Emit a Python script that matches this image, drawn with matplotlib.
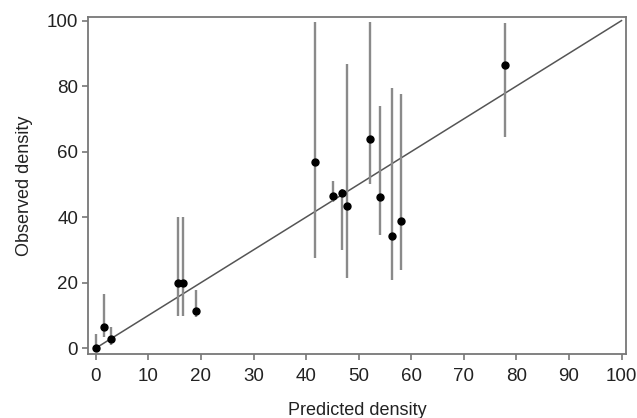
import numpy as np
import matplotlib
matplotlib.use("Agg")
import matplotlib.pyplot as plt

plt.rcParams['font.family'] = ['Liberation Sans', 'DejaVu Sans']

# predicted vs observed density, with interval bounds
PREDICTED = [0.0, 1.5, 2.8, 15.7, 16.5, 19.0, 41.6, 45.2, 46.8, 47.8, 52.1, 54.1, 56.3, 58.0, 77.9]
OBSERVED = [0.0, 6.4, 2.7, 19.8, 19.8, 11.4, 56.9, 46.5, 47.4, 43.4, 63.9, 46.2, 34.3, 38.9, 86.3]
LOWER = [0.0, 3.4, 1.0, 9.9, 9.9, 9.6, 27.6, 44.5, 29.9, 21.5, 50.1, 34.5, 20.8, 24.0, 64.5]
UPPER = [4.3, 16.5, 6.4, 40.0, 40.0, 17.7, 99.6, 51.0, 48.5, 86.6, 99.6, 73.9, 79.3, 77.5, 99.3]

XTICKS = [0, 10, 20, 30, 40, 50, 60, 70, 80, 90, 100]
YTICKS = [0, 20, 40, 60, 80, 100]

fig = plt.figure(figsize=(6.37, 4.18), dpi=100)
ax = fig.add_axes([0.1381, 0.1531, 0.9823 - 0.1381, 0.9593 - 0.1531])

x = np.array(PREDICTED)
y = np.array(OBSERVED)
lo = np.array(LOWER)
hi = np.array(UPPER)

ax.vlines(x, lo, hi, color='#8a8a8a', linewidth=1.7, zorder=2)
ax.plot([0, 100], [0, 100], color='#555555', linewidth=1.1, zorder=1)
ax.plot(x, y, 'o', color='black', markersize=5, zorder=3)

ax.set_xlim(-1.5, 100.8)
ax.set_ylim(-1.8, 101.1)
ax.set_xticks(XTICKS)
ax.set_yticks(YTICKS)

for side in ['left', 'right', 'top', 'bottom']:
    ax.spines[side].set_color('#777777')
    ax.spines[side].set_linewidth(1.3)

ax.tick_params(direction='out', length=4, width=1.2, color='#777777',
               labelsize=13.5, labelcolor='#222222')
ax.tick_params(axis='x', pad=6)
ax.tick_params(axis='y', pad=3)

ax.set_xlabel('Predicted density', fontsize=13, color='#222222', labelpad=12)
ax.set_ylabel('Observed density', fontsize=13, color='#222222', labelpad=10)

fig.savefig('out.png', dpi=100)
